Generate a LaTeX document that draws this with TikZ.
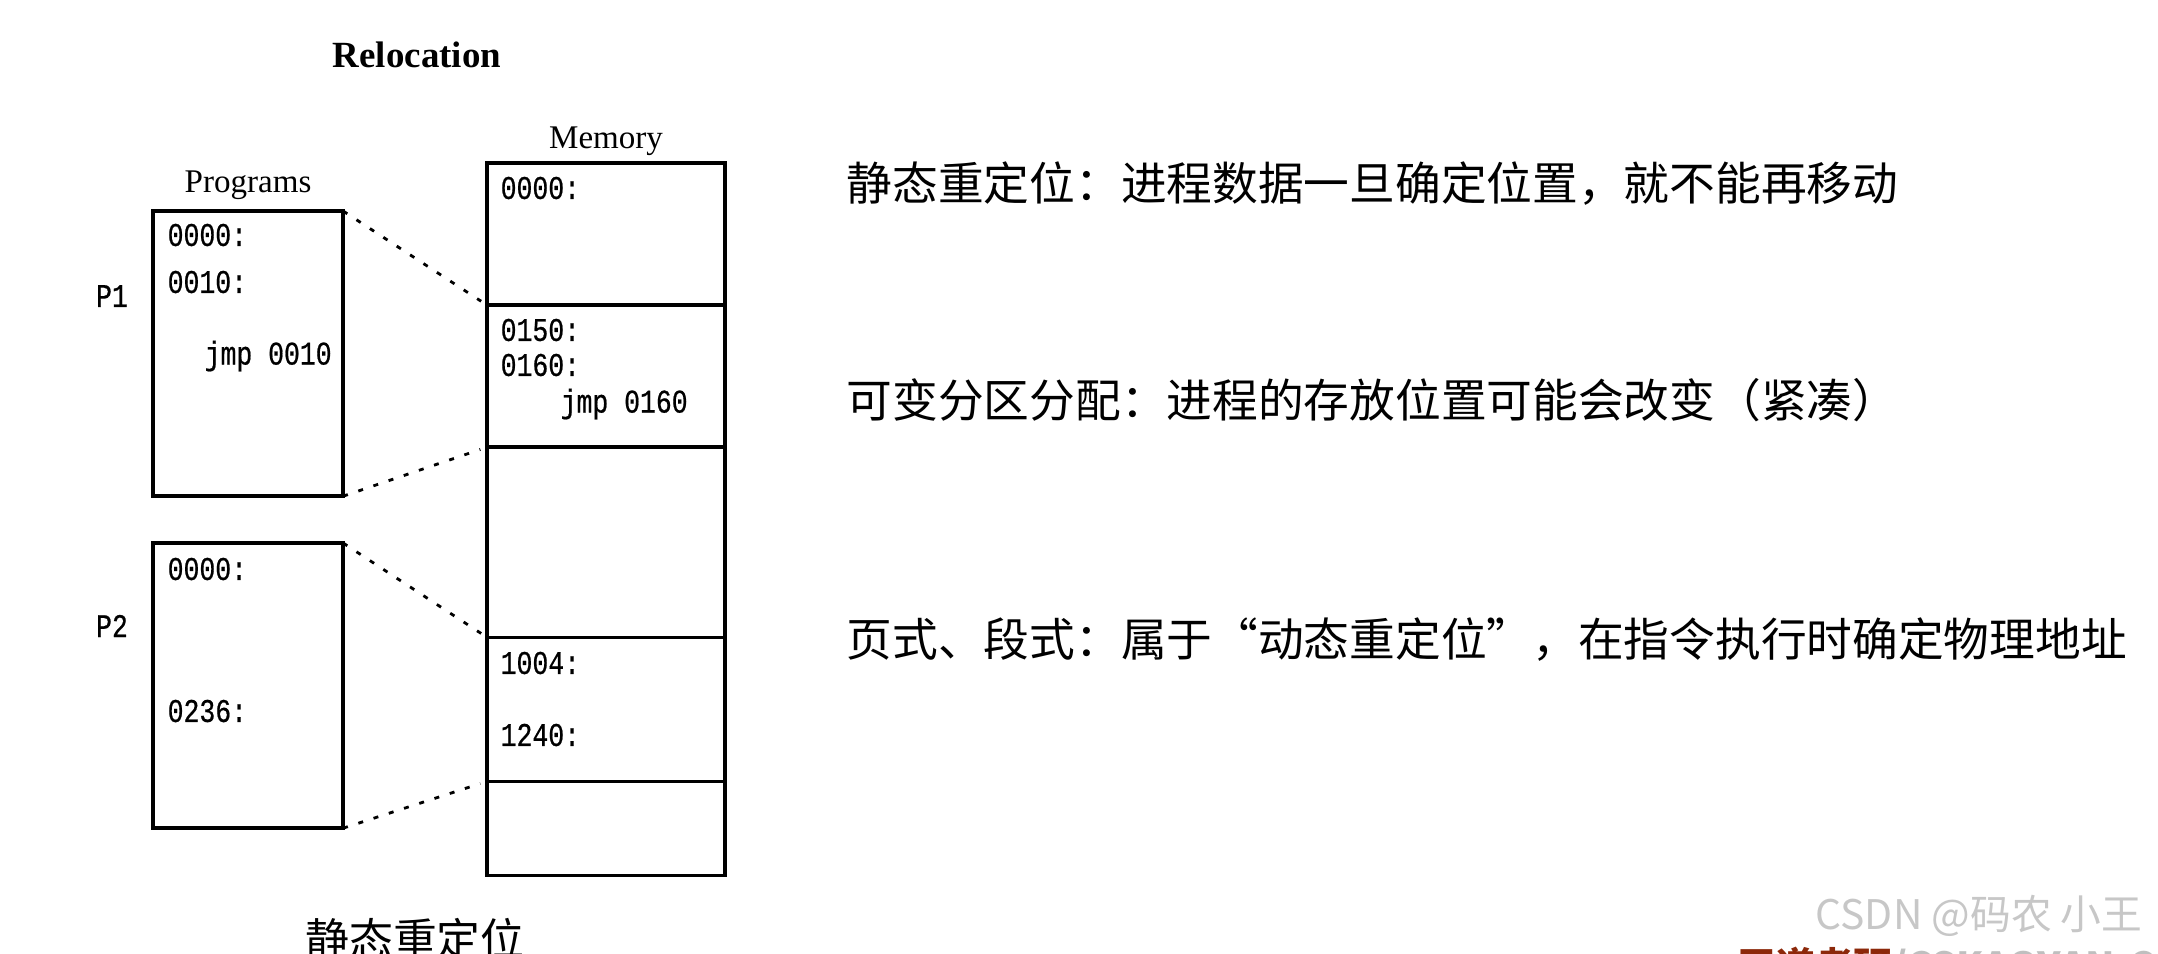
\documentclass[tikz,border=0pt]{standalone}
\usepackage{fontspec}
\setmainfont{Liberation Serif}
\newfontfamily\codefont[FakeStretch=0.8, FakeBold=0.6]{Liberation Mono}
\newfontfamily\cjk{Noto Sans CJK SC}
\usetikzlibrary{positioning}
\definecolor{wdred}{RGB}{140,40,10}

\begin{document}
\begin{tikzpicture}[
    x=0.01cm, y=-0.01cm,
    node distance=0pt,
    cell/.style={rectangle, draw=black, line width=1pt, minimum width=2.38cm, outer sep=0pt, inner sep=0pt},
    prog/.style={rectangle, draw=black, line width=1pt, minimum width=1.90cm, minimum height=2.85cm, outer sep=0pt, inner sep=0pt},
    code/.style={font=\codefont\fontsize{9.4}{11}\selectfont, inner sep=0pt, anchor=west},
    head/.style={font=\fontsize{9.4}{11}\selectfont, inner sep=0pt},
    note/.style={font=\cjk\fontsize{13}{16}\selectfont, inner sep=0pt, anchor=west},
    wmark/.style={font=\cjk\fontsize{11.6}{14}\selectfont, text=black!22, inner sep=0pt, anchor=west},
    link/.style={dash pattern=on 0.05cm off 0.11cm, line width=0.8pt, shorten >=0.07cm}
]
\useasboundingbox (0,0) rectangle (2158,953);

% Title
\node[font=\bfseries\fontsize{10.5}{12}\selectfont, inner sep=0pt] (title) at (417,55) {Relocation};

% Programs
\node[prog, anchor=north west] (p1) at (153,211) {};
\node[prog, anchor=north west] (p2) at (153,543) {};
\node[head, above=0.11cm of p1] (proglabel) {Programs};
\node[code, anchor=center] (p1label) at (112,296) {P1};
\node[code, anchor=center] (p2label) at (112,626) {P2};

% Memory
\node[cell, minimum height=1.42cm, anchor=north west] (m1) at (487,163) {};
\node[cell, minimum height=1.42cm, below=of m1] (m2) {};
\node[cell, minimum height=1.90cm, below=of m2] (m3) {};
\node[cell, minimum height=1.44cm, below=of m3] (m4) {};
\node[cell, minimum height=0.94cm, below=of m4] (m5) {};
\node[head, above=0.07cm of m1] (memlabel) {Memory};

% Addresses
\node[code] (p1a) at (167,235) {0000:};
\node[code] (p1b) at (167,282) {0010:};
\node[code] (p1c) at (204,356) {jmp 0010};
\node[code] (p2a) at (167,569) {0000:};
\node[code] (p2b) at (167,711) {0236:};
\node[code] (m1a) at (500,188) {0000:};
\node[code] (m2a) at (500,330) {0150:};
\node[code] (m2b) at (500,365) {0160:};
\node[code] (m2c) at (560,404) {jmp 0160};
\node[code] (m4a) at (500,663) {1004:};
\node[code] (m4b) at (500,735) {1240:};

% Notes
\node[note] (n1) at (846,184) {静态重定位：进程数据一旦确定位置，就不能再移动};
\node[note] (n2) at (846,400) {可变分区分配：进程的存放位置可能会改变（紧凑）};
\node[note] (n3) at (846,640) {页式、段式：属于“动态重定位”，在指令执行时确定物理地址};
\node[font=\cjk\fontsize{12.5}{15}\selectfont, inner sep=0pt] (caption) at (415,939) {静态重定位};

% Watermarks
\node[wmark] (csdn) at (1815,916) {CSDN @码农 小王};
\node[wmark, anchor=north west, font=\cjk\bfseries\fontsize{11}{13}\selectfont] (wd) at (1737,946) {\textcolor{wdred}{王道考研}\textcolor{black!25}{/CSKAOYAN.COM}};

% Links
\draw[link] (p1.north east) -- (m2.north west);
\draw[link] (p1.south east) -- (m3.north west);
\draw[link] (p2.north east) -- (m4.north west);
\draw[link] (p2.south east) -- (m5.north west);

\end{tikzpicture}
\end{document}
